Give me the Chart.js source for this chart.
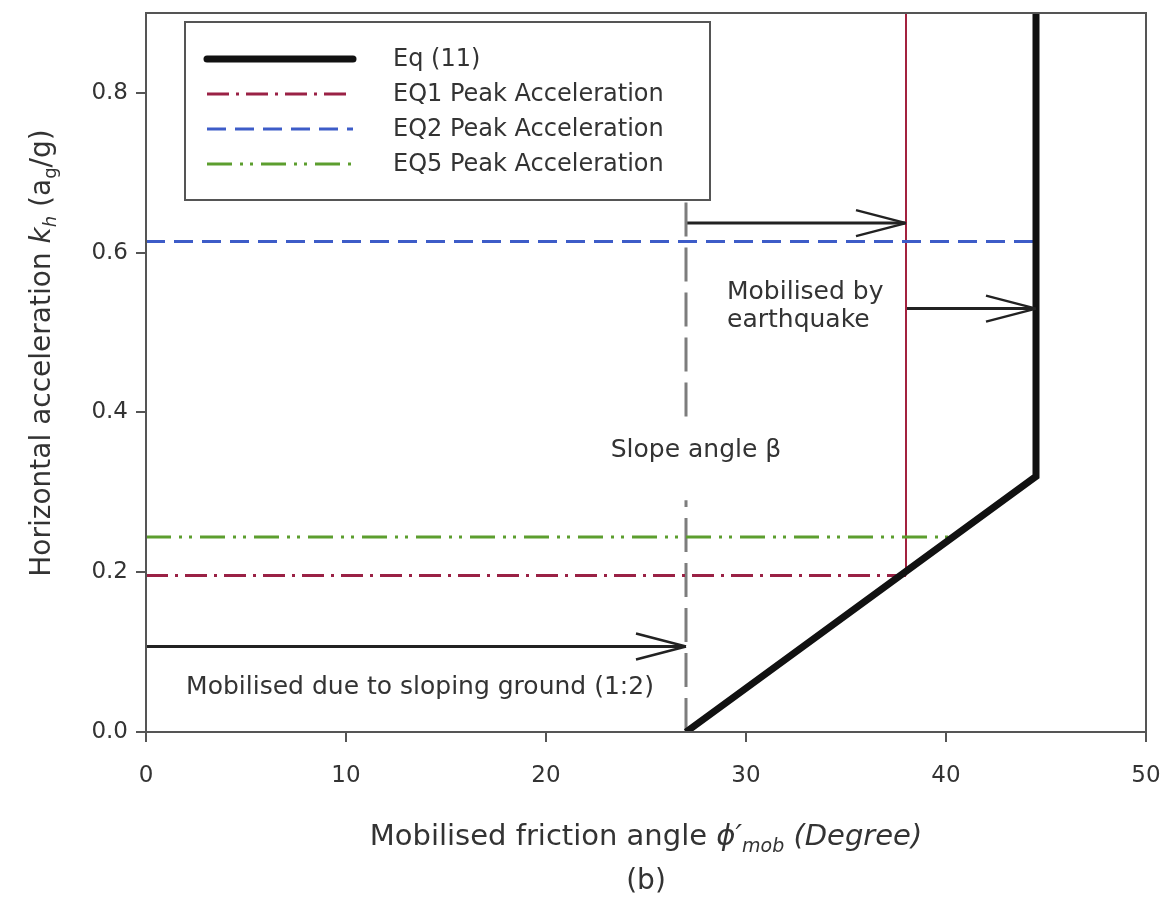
<!DOCTYPE html>
<html>
<head>
<meta charset="utf-8">
<script src="https://cdn.jsdelivr.net/npm/chart.js@4.4.1/dist/chart.umd.min.js"></script>
<style>
  html, body { margin: 0; padding: 0; background: #ffffff; }
  #wrap { width: 1167px; height: 907px; }
</style>
</head>
<body>
<div id="wrap"><canvas id="chart" width="1167" height="907"></canvas></div>
<script>
// ---- data: mobilised friction angle (deg) vs horizontal acceleration kh ----
const eq11Phi = [27, 44.5, 44.5];
const eq11Kh  = [0, 0.32, 0.9];

const eq1Phi = [0, 38];
const eq1Kh  = [0.196, 0.196];
const eq2Phi = [0, 44.5];
const eq2Kh  = [0.614, 0.614];
const eq5Phi = [0, 40.3];
const eq5Kh  = [0.244, 0.244];

// friction mobilised by EQ1 (vertical line from its intersection with Eq 11)
const eq1MobPhi = [38, 38];
const eq1MobKh  = [0.196, 0.9];

// slope angle beta (1:2 ground), broken where its label sits
const slopePhi = [27, 27, 27, 27, 27];
const slopeKh  = [0, 0.29, null, 0.395, 0.9];

// arrows: start angle, end angle, kh level
const arrowFrom = [0, 27, 38];
const arrowTo   = [27, 38, 44.5];
const arrowKh   = [0.107, 0.637, 0.53];

const xTicks = [0, 10, 20, 30, 40, 50];
const yTicks = [0, 0.2, 0.4, 0.6, 0.8];

const seriesLabels = ['Eq (11)', 'EQ1 Peak Acceleration', 'EQ2 Peak Acceleration', 'EQ5 Peak Acceleration'];

const notes = [
  { lines: ['Mobilised due to sloping ground (1:2)'], x: 13.7, y: 0.047, align: 'center' },
  { lines: ['Slope angle \u03B2'], x: 27.5, y: 0.344, align: 'center' },
  { lines: ['Mobilised by', 'earthquake'], x: 29.05, y: 0.542, align: 'left' }
];

// ---- styling ----
const FONT = '"DejaVu Sans", "Liberation Sans", sans-serif';
const TEXT = '#333333';
const AXIS = '#555555';

const pts = (xs, ys) => xs.map((x, i) => ({ x: x, y: ys[i] }));

const datasets = [
  { label: seriesLabels[0], data: pts(eq11Phi, eq11Kh), borderColor: '#111111', borderWidth: 7,
    borderJoinStyle: 'miter', inLegend: true },
  { label: seriesLabels[1], data: pts(eq1Phi, eq1Kh), borderColor: '#9a2145', borderWidth: 3,
    borderDash: [22, 7, 3, 7], inLegend: true },
  { label: seriesLabels[2], data: pts(eq2Phi, eq2Kh), borderColor: '#3d5cc8', borderWidth: 3,
    borderDash: [19, 9], inLegend: true },
  { label: seriesLabels[3], data: pts(eq5Phi, eq5Kh), borderColor: '#5c9e2e', borderWidth: 3,
    borderDash: [25, 8, 3, 7, 3, 8], inLegend: true },
  { label: 'eq1-mobilised', data: pts(eq1MobPhi, eq1MobKh), borderColor: '#a3223f', borderWidth: 2 },
  { label: 'slope', data: pts(slopePhi, slopeKh), borderColor: '#7d7d7d', borderWidth: 3,
    borderDash: [34, 11], spanGaps: false }
];
arrowFrom.forEach((f, i) => {
  datasets.push({ label: 'arrow' + i, data: pts([f, arrowTo[i]], [arrowKh[i], arrowKh[i]]),
    borderColor: '#222222', borderWidth: 3, arrow: true });
});
datasets.forEach(d => { d.showLine = true; d.pointRadius = 0; d.fill = false; d.tension = 0; });

// open arrowheads at the end of arrow datasets
const arrowHeads = {
  id: 'arrowHeads',
  afterDatasetsDraw(chart) {
    const ctx = chart.ctx;
    chart.data.datasets.forEach((ds, i) => {
      if (!ds.arrow) return;
      const els = chart.getDatasetMeta(i).data;
      const a = els[els.length - 2], b = els[els.length - 1];
      const ang = Math.atan2(b.y - a.y, b.x - a.x);
      const len = 50, half = 13;
      ctx.save();
      ctx.strokeStyle = ds.borderColor;
      ctx.lineWidth = 2.5;
      ctx.lineCap = 'butt';
      ctx.beginPath();
      [-1, 1].forEach(s => {
        const px = b.x - len * Math.cos(ang) - s * half * Math.sin(ang);
        const py = b.y - len * Math.sin(ang) + s * half * Math.cos(ang);
        ctx.moveTo(b.x, b.y);
        ctx.lineTo(px, py);
      });
      ctx.stroke();
      ctx.restore();
    });
  }
};

// text notes, frame, in-plot legend
const overlay = {
  id: 'overlay',
  afterDatasetsDraw(chart) {
    const ctx = chart.ctx, area = chart.chartArea;
    const xs = chart.scales.x, ys = chart.scales.y;
    ctx.save();
    // frame on top and right
    ctx.strokeStyle = AXIS;
    ctx.lineWidth = 2;
    ctx.strokeRect(area.left, area.top, area.right - area.left, area.bottom - area.top);

    // notes
    ctx.fillStyle = TEXT;
    ctx.font = '25px ' + FONT;
    ctx.textBaseline = 'alphabetic';
    notes.forEach(n => {
      ctx.textAlign = n.align;
      const px = xs.getPixelForValue(n.x), py = ys.getPixelForValue(n.y);
      n.lines.forEach((t, k) => ctx.fillText(t, px, py + k * 28));
    });

    // legend box
    const bx = area.left + 39, by = area.top + 9, bw = 525, bh = 178;
    ctx.fillStyle = '#ffffff';
    ctx.fillRect(bx, by, bw, bh);
    ctx.strokeStyle = AXIS;
    ctx.lineWidth = 2;
    ctx.strokeRect(bx, by, bw, bh);
    let row = 0;
    chart.data.datasets.forEach(ds => {
      if (!ds.inLegend) return;
      const ry = by + 37 + row * 35;
      ctx.save();
      ctx.strokeStyle = ds.borderColor;
      ctx.lineWidth = ds.borderWidth;
      ctx.setLineDash(ds.borderDash || []);
      ctx.lineCap = ds.borderWidth > 5 ? 'round' : 'butt';
      ctx.beginPath();
      ctx.moveTo(bx + 22, ry);
      ctx.lineTo(bx + 168, ry);
      ctx.stroke();
      ctx.restore();
      ctx.fillStyle = TEXT;
      ctx.font = '24px ' + FONT;
      ctx.textAlign = 'left';
      ctx.textBaseline = 'middle';
      ctx.fillText(ds.label, bx + 208, ry + 1);
      row++;
    });
    ctx.restore();
  },
  afterDraw(chart) {
    const ctx = chart.ctx, area = chart.chartArea;
    const cx = (area.left + area.right) / 2;
    ctx.save();
    ctx.fillStyle = TEXT;
    // x-axis title
    drawRich(ctx, [
      { t: 'Mobilised friction angle ', s: 29 },
      { t: '\u03D5\u2032', s: 29, it: true },
      { t: 'mob', s: 19, it: true, dy: 7 },
      { t: ' (Degree)', s: 29, it: true }
    ], cx, 845);
    drawRich(ctx, [{ t: '(b)', s: 28 }], cx, 889);
    // y-axis title
    ctx.translate(50, 353);
    ctx.rotate(-Math.PI / 2);
    drawRich(ctx, [
      { t: 'Horizontal acceleration ', s: 28 },
      { t: 'k', s: 28, it: true },
      { t: 'h', s: 18, it: true, dy: 6 },
      { t: ' (a', s: 28 },
      { t: 'g', s: 18, dy: 6 },
      { t: '/g)', s: 28 }
    ], 0, 0);
    ctx.restore();
  }
};

function drawRich(ctx, segs, cx, baseY) {
  const fontOf = g => (g.it ? 'italic ' : '') + g.s + 'px ' + FONT;
  let total = 0;
  segs.forEach(g => { ctx.font = fontOf(g); g.w = ctx.measureText(g.t).width; total += g.w; });
  let x = cx - total / 2;
  ctx.textAlign = 'left';
  ctx.textBaseline = 'alphabetic';
  segs.forEach(g => {
    ctx.font = fontOf(g);
    ctx.fillText(g.t, x, baseY + (g.dy || 0));
    x += g.w;
  });
}

new Chart(document.getElementById('chart'), {
  type: 'scatter',
  data: { datasets: datasets },
  options: {
    responsive: false,
    animation: false,
    layout: { padding: { left: 0, right: 21, top: 13, bottom: 0 } },
    plugins: { legend: { display: false }, tooltip: { enabled: false } },
    scales: {
      x: {
        type: 'linear', min: 0, max: 50,
        afterBuildTicks: s => { s.ticks = xTicks.map(v => ({ value: v })); },
        afterFit: s => { s.height = 175; s.paddingLeft = 0; s.paddingRight = 0; },
        border: { display: true, color: AXIS, width: 2 },
        grid: { drawOnChartArea: false, drawTicks: true, tickLength: 10, color: AXIS, lineWidth: 2 },
        ticks: { color: TEXT, padding: 20, font: { family: FONT, size: 23 }, callback: v => String(v) }
      },
      y: {
        type: 'linear', min: 0, max: 0.9,
        afterBuildTicks: s => { s.ticks = yTicks.map(v => ({ value: v })); },
        afterFit: s => { s.width = 146; s.paddingTop = 0; s.paddingBottom = 0; },
        border: { display: true, color: AXIS, width: 2 },
        grid: { drawOnChartArea: false, drawTicks: true, tickLength: 10, color: AXIS, lineWidth: 2 },
        ticks: { color: TEXT, padding: 8, font: { family: FONT, size: 23 }, callback: v => v.toFixed(1) }
      }
    }
  },
  plugins: [arrowHeads, overlay]
});
</script>
</body>
</html>
